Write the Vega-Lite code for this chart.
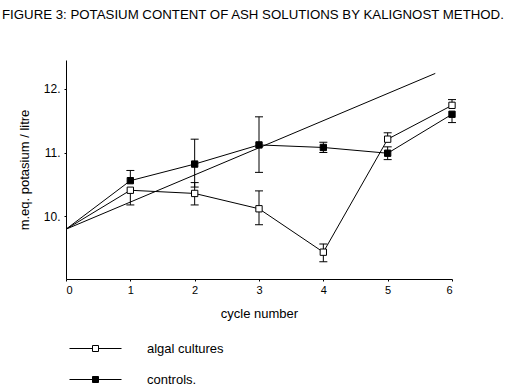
{
  "$schema": "https://vega.github.io/schema/vega-lite/v6.json",
  "width": 386,
  "height": 219,
  "autosize": {"type": "none"},
  "padding": {"left": 66, "top": 60, "right": 68, "bottom": 109},
  "background": "white",
  "title": {
    "text": "FIGURE 3: POTASIUM CONTENT OF ASH SOLUTIONS BY KALIGNOST METHOD.",
    "anchor": "start",
    "frame": "group",
    "dx": -64,
    "offset": 28,
    "baseline": "alphabetic",
    "font": "Liberation Sans",
    "fontSize": 13.25,
    "fontWeight": "normal",
    "color": "black"
  },
  "config": {
    "view": {"stroke": null},
    "font": "Liberation Sans",
    "axis": {
      "grid": false,
      "domainColor": "black",
      "domainWidth": 1,
      "tickColor": "black",
      "tickSize": 2,
      "labelColor": "black",
      "labelFont": "Liberation Sans",
      "titleColor": "black",
      "titleFont": "Liberation Sans",
      "titleFontWeight": "normal",
      "titleFontSize": 13
    }
  },
  "datasets": {
    "series": [
      {"series": "algal cultures", "cycle": 0, "value": 9.8, "lo": null, "hi": null},
      {"series": "algal cultures", "cycle": 1, "value": 10.41, "lo": 10.18, "hi": 10.41},
      {"series": "algal cultures", "cycle": 2, "value": 10.36, "lo": 10.18, "hi": 10.53},
      {"series": "algal cultures", "cycle": 3, "value": 10.12, "lo": 9.87, "hi": 10.4},
      {"series": "algal cultures", "cycle": 4, "value": 9.44, "lo": 9.29, "hi": 9.57},
      {"series": "algal cultures", "cycle": 5, "value": 11.21, "lo": 11.21, "hi": 11.31},
      {"series": "algal cultures", "cycle": 6, "value": 11.74, "lo": 11.74, "hi": 11.83},
      {"series": "controls.", "cycle": 0, "value": 9.8, "lo": null, "hi": null},
      {"series": "controls.", "cycle": 1, "value": 10.56, "lo": 10.56, "hi": 10.72},
      {"series": "controls.", "cycle": 2, "value": 10.82, "lo": 10.46, "hi": 11.21},
      {"series": "controls.", "cycle": 3, "value": 11.12, "lo": 10.69, "hi": 11.56},
      {"series": "controls.", "cycle": 4, "value": 11.08, "lo": 11.0, "hi": 11.16},
      {"series": "controls.", "cycle": 5, "value": 10.99, "lo": 10.89, "hi": 11.09},
      {"series": "controls.", "cycle": 6, "value": 11.6, "lo": 11.47, "hi": 11.6}
    ],
    "trend": [
      {"cycle": 0, "value": 9.8},
      {"cycle": 5.74, "value": 12.24}
    ]
  },
  "layer": [
    {
      "data": {"name": "trend"},
      "mark": {"type": "line", "color": "black", "strokeWidth": 1},
      "encoding": {
        "x": {
          "field": "cycle", "type": "quantitative",
          "scale": {"domain": [0, 6], "nice": false, "zero": false},
          "axis": {"values": [0, 1, 2, 3, 4, 5, 6], "format": "d", "title": "cycle number", "labelFontSize": 11, "labelPadding": 3, "titlePadding": 12}
        },
        "y": {
          "field": "value", "type": "quantitative",
          "scale": {"domain": [9.02, 12.45], "nice": false, "zero": false},
          "axis": {"values": [10, 11, 12], "labelExpr": "datum.value + '.'", "title": "m.eq. potasium / litre", "labelFontSize": 12, "labelPadding": 4, "titlePadding": 12}
        }
      }
    },
    {
      "data": {"name": "series"},
      "mark": {"type": "line", "color": "black", "strokeWidth": 1},
      "encoding": {
        "x": {"field": "cycle", "type": "quantitative", "scale": {"domain": [0, 6], "nice": false, "zero": false}},
        "y": {"field": "value", "type": "quantitative", "scale": {"domain": [9.02, 12.45], "nice": false, "zero": false}},
        "detail": {"field": "series"}
      }
    },
    {
      "data": {"name": "series"},
      "transform": [{"filter": "datum.lo != null"}],
      "mark": {"type": "rule", "color": "black", "strokeWidth": 1},
      "encoding": {
        "x": {"field": "cycle", "type": "quantitative", "scale": {"domain": [0, 6], "nice": false, "zero": false}},
        "y": {"field": "lo", "type": "quantitative", "scale": {"domain": [9.02, 12.45], "nice": false, "zero": false}},
        "y2": {"field": "hi"}
      }
    },
    {
      "data": {"name": "series"},
      "transform": [{"filter": "datum.hi != null && datum.hi > datum.value"}],
      "mark": {"type": "tick", "orient": "horizontal", "color": "black", "size": 8, "thickness": 1, "opacity": 1},
      "encoding": {
        "x": {"field": "cycle", "type": "quantitative", "scale": {"domain": [0, 6], "nice": false, "zero": false}},
        "y": {"field": "hi", "type": "quantitative", "scale": {"domain": [9.02, 12.45], "nice": false, "zero": false}}
      }
    },
    {
      "data": {"name": "series"},
      "transform": [{"filter": "datum.lo != null && datum.lo < datum.value"}],
      "mark": {"type": "tick", "orient": "horizontal", "color": "black", "size": 8, "thickness": 1, "opacity": 1},
      "encoding": {
        "x": {"field": "cycle", "type": "quantitative", "scale": {"domain": [0, 6], "nice": false, "zero": false}},
        "y": {"field": "lo", "type": "quantitative", "scale": {"domain": [9.02, 12.45], "nice": false, "zero": false}}
      }
    },
    {
      "data": {"name": "series"},
      "transform": [{"filter": "datum.cycle > 0"}],
      "mark": {"type": "point", "shape": "square", "size": 40, "stroke": "black", "strokeWidth": 1, "opacity": 1, "filled": true},
      "encoding": {
        "x": {"field": "cycle", "type": "quantitative", "scale": {"domain": [0, 6], "nice": false, "zero": false}},
        "y": {"field": "value", "type": "quantitative", "scale": {"domain": [9.02, 12.45], "nice": false, "zero": false}},
        "fill": {
          "field": "series", "type": "nominal",
          "scale": {"domain": ["algal cultures", "controls."], "range": ["white", "black"]},
          "legend": {
            "title": null,
            "orient": "none",
            "legendX": 23,
            "legendY": 282,
            "padding": 0,
            "symbolType": "M-5.2,0H-0.6M0.6,0H5.2M-0.6,-0.6H0.6V0.6H-0.6Z",
            "symbolSize": 100,
            "symbolStrokeColor": "black",
            "symbolStrokeWidth": 1,
            "symbolOpacity": 1,
            "labelFont": "Liberation Sans",
            "labelFontSize": 13,
            "labelColor": "black",
            "labelOffset": 45,
            "rowPadding": 17
          }
        }
      }
    }
  ]
}
